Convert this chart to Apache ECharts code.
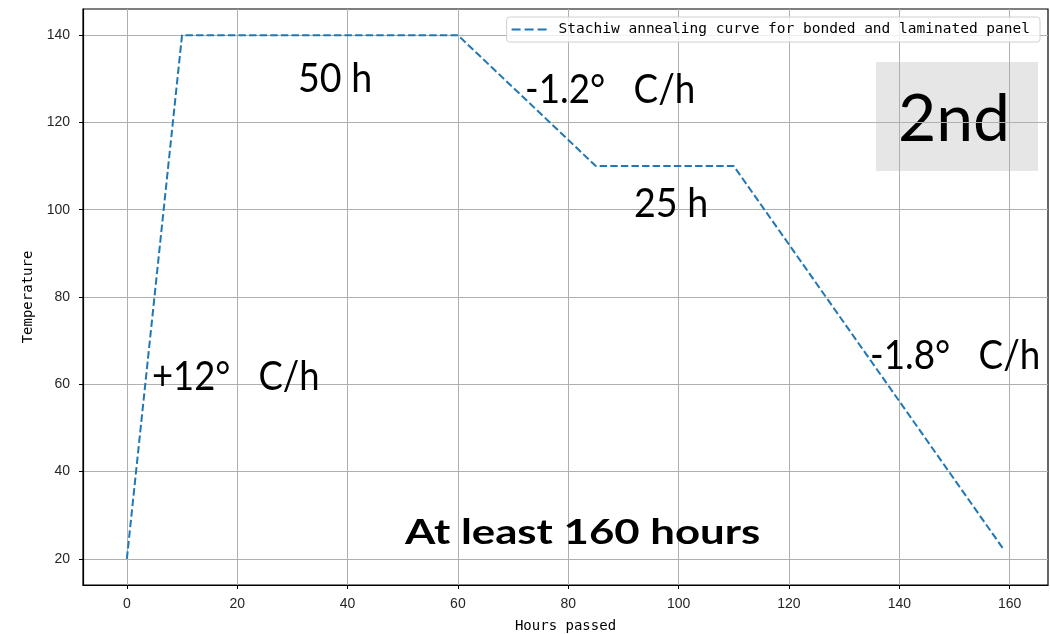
<!DOCTYPE html>
<html>
<head>
<meta charset="utf-8">
<style>
  html, body { margin: 0; padding: 0; background: #fff; }
  #chart { width: 1050px; height: 634px; }
</style>
<script src="https://cdn.jsdelivr.net/npm/echarts@6/dist/echarts.min.js"></script>
</head>
<body>
<div id="chart"></div>
<script>
// Annealing schedule: hours passed vs. temperature
const hours = [0, 10, 60, 85, 110, 159];
const temperature = [20, 140, 140, 110, 110, 22];
const xTicks = [0, 20, 40, 60, 80, 100, 120, 140, 160];
const yTicks = [20, 40, 60, 80, 100, 120, 140];
const seriesName = 'Stachiw annealing curve for bonded and laminated panel';

const chart = echarts.init(document.getElementById('chart'), null, { renderer: 'canvas' });

const tickFont = { fontFamily: 'Liberation Sans', fontSize: 14, color: '#262626' };
const annoFont = 'Lato';

// Large slide-style annotation text, stretched horizontally to its box
function annotation(text, left, midY, size, sx, weight) {
  return {
    type: 'text',
    x: left,
    y: midY - size * 0.6,
    scaleX: sx,
    z: 100,
    style: {
      text: text,
      fill: '#000',
      font: (weight || 'normal') + ' ' + size + 'px ' + annoFont,
      textVerticalAlign: 'top'
    }
  };
}

const option = {
  animation: false,
  grid: {
    left: 83, right: 2, top: 9, bottom: 49,
    show: true, borderColor: '#000', borderWidth: 1.2,
    containLabel: false, outerBoundsMode: 'none'
  },
  xAxis: {
    type: 'value',
    min: -7.95,
    max: 166.95,
    name: 'Hours passed',
    nameLocation: 'middle',
    nameGap: 34,
    nameTextStyle: { fontFamily: 'DejaVu Sans Mono', fontSize: 14, color: '#000' },
    axisLine: { show: true, onZero: false, lineStyle: { color: '#000', width: 1.2 } },
    axisTick: { show: true, inside: false, length: 4, customValues: xTicks, lineStyle: { color: '#000' } },
    axisLabel: Object.assign({ margin: 12, customValues: xTicks }, tickFont),
    splitLine: { show: true, lineStyle: { color: '#b0b0b0', width: 1 } }
  },
  yAxis: {
    type: 'value',
    min: 14,
    max: 146,
    name: 'Temperature',
    nameLocation: 'middle',
    nameGap: 47,
    nameRotate: 90,
    nameTextStyle: { fontFamily: 'DejaVu Sans Mono', fontSize: 14, color: '#000' },
    axisLine: { show: true, onZero: false, lineStyle: { color: '#000', width: 1.2 } },
    axisTick: { show: true, inside: false, length: 4, customValues: yTicks, lineStyle: { color: '#000' } },
    axisLabel: Object.assign({ margin: 13, customValues: yTicks }, tickFont),
    splitLine: { show: true, lineStyle: { color: '#b0b0b0', width: 1 } }
  },
  legend: {
    show: true,
    right: 10,
    top: 17,
    padding: [5, 10, 5, 5],
    itemWidth: 35,
    itemHeight: 12,
    itemGap: 10,
    backgroundColor: 'rgba(255,255,255,0.8)',
    borderColor: '#d0d0d0',
    borderWidth: 1,
    borderRadius: 3,
    textStyle: { fontFamily: 'DejaVu Sans Mono', fontSize: 14.5, color: '#000', padding: [0, 0, 0, 7] },
    data: [{ name: seriesName, icon: 'path://M0,0 L9,0 L9,2 L0,2 Z M13,0 L22,0 L22,2 L13,2 Z M26,0 L35,0 L35,2 L26,2 Z' }],
    itemStyle: { color: '#1f77b4' }
  },
  series: [{
    name: seriesName,
    type: 'line',
    data: hours.map((h, i) => [h, temperature[i]]),
    showSymbol: false,
    symbol: 'none',
    itemStyle: { color: '#1f77b4' },
    lineStyle: { color: '#1f77b4', width: 2, type: [7.4, 3.2] },
    z: 5
  }],
  graphic: [
    annotation('50 h', 298, 83, 40, 0.94),
    annotation('-1.2°   C/h', 525, 94, 40, 0.92),
    annotation('25 h', 634, 208, 40, 0.94),
    annotation('+12°   C/h', 152, 381, 40, 0.91),
    annotation('-1.8°   C/h', 870, 360, 40, 0.92),
    annotation('At least 160 hours', 405, 536, 35, 1.25, 'bold'),
    {
      type: 'group',
      x: 876,
      y: 62,
      z: 100,
      children: [
        { type: 'rect', shape: { x: 0, y: 0, width: 162, height: 109 }, style: { fill: '#e6e6e6' } },
        {
          type: 'text',
          x: 78, y: 58,
          style: { text: '2nd', font: 'normal 66px Lato', fill: '#000', textAlign: 'center', textVerticalAlign: 'middle' }
        }
      ]
    }
  ]
};

chart.setOption(option);
</script>
</body>
</html>
